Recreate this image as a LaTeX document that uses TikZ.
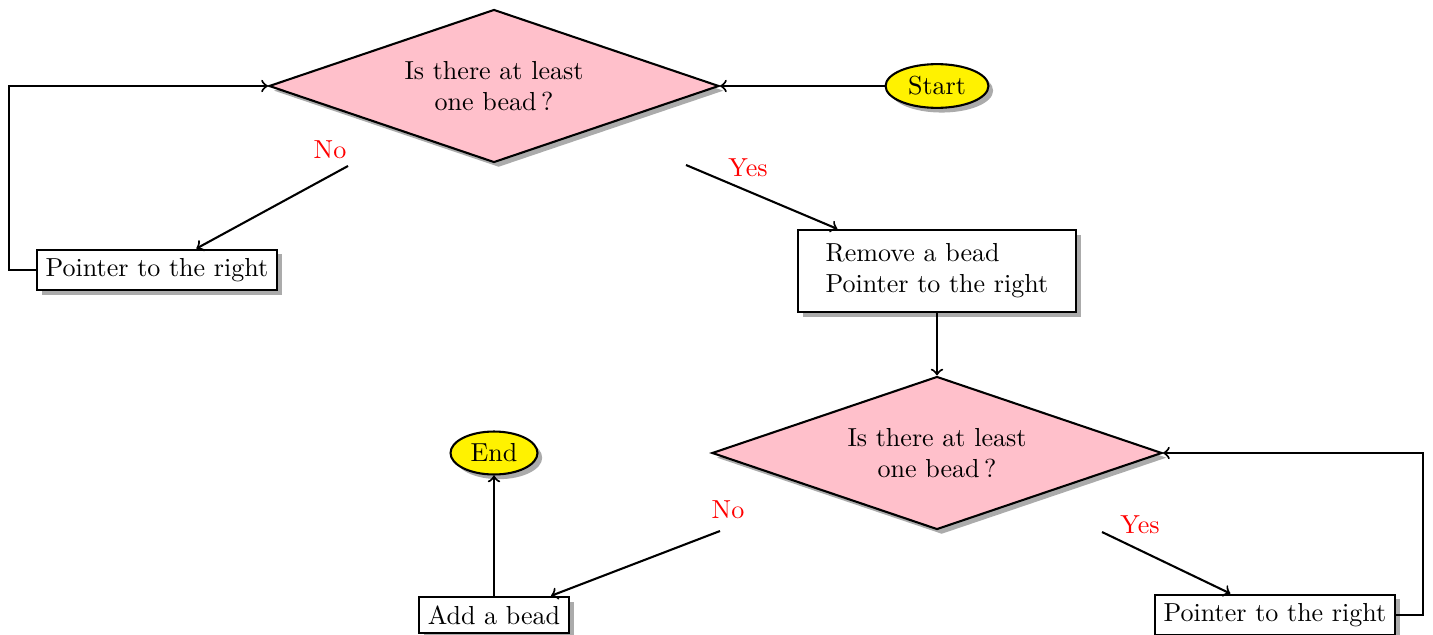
\documentclass[tikz,border=0pt]{standalone}
\usetikzlibrary{shapes.geometric,shadows,arrows}
\definecolor{dpink}{RGB}{255,192,203}
\begin{document}
\begin{tikzpicture}[x=0.384pt,y=-0.384pt,
  every node/.style={font=\normalsize},
  shadowed/.style={drop shadow={shadow xshift=1.8pt,shadow yshift=-1.8pt,opacity=0.55,fill=black!60}},
  decision/.style={shape=diamond,draw,thick,fill=dpink,shadowed,align=center,inner sep=0pt,aspect=2.94,minimum width=172.8pt,minimum height=58.75pt},
  terminal/.style={shape=ellipse,draw,thick,fill=yellow,shadowed,inner sep=1pt},
  action/.style={shape=rectangle,draw,thick,fill=white,shadowed},
  lbl/.style={text=red},
  conn/.style={thick,->,>=to}]
\useasboundingbox (0,0) rectangle (1433,635);
\node[decision] (d1) at (494,86) {Is there at least\\one bead\,?};
\node[terminal,minimum width=39.5pt,minimum height=16.8pt] (start) at (937,86) {Start};
\node[action] (b1) at (157,270) {Pointer to the right};
\node[action,align=left,minimum width=106.8pt,minimum height=31.5pt] (b2) at (937,271) {Remove a bead\\Pointer to the right};
\node[decision] (d2) at (937,453) {Is there at least\\one bead\,?};
\node[terminal,minimum width=33.4pt,minimum height=16.5pt] (end) at (494,453) {End};
\node[action] (b3) at (494,615) {Add a bead};
\node[action] (b4) at (1275,615) {Pointer to the right};
\coordinate (n1) at (348,166);
\coordinate (y1) at (686,165);
\coordinate (n2) at (720,531);
\coordinate (y2) at (1102,532);
\node[lbl] (ln1) at (330,150) {No};
\node[lbl] (ly1) at (748,168) {Yes};
\node[lbl] (ln2) at (728,510) {No};
\node[lbl] (ly2) at (1140,525) {Yes};
\draw[conn] (start) -- (d1.east);
\draw[conn] (b1.west) -- ++(-27,0) |- (d1.west);
\draw[conn] (n1) -- (b1);
\draw[conn] (y1) -- (b2);
\draw[conn] (b2) -- (d2.north);
\draw[conn] (n2) -- ([xshift=21.9pt]b3.north);
\draw[conn] (y2) -- (b4);
\draw[conn] (b3) -- (end);
\draw[conn] (b4.east) -- ++(27,0) |- (d2.east);
\end{tikzpicture}
\end{document}
